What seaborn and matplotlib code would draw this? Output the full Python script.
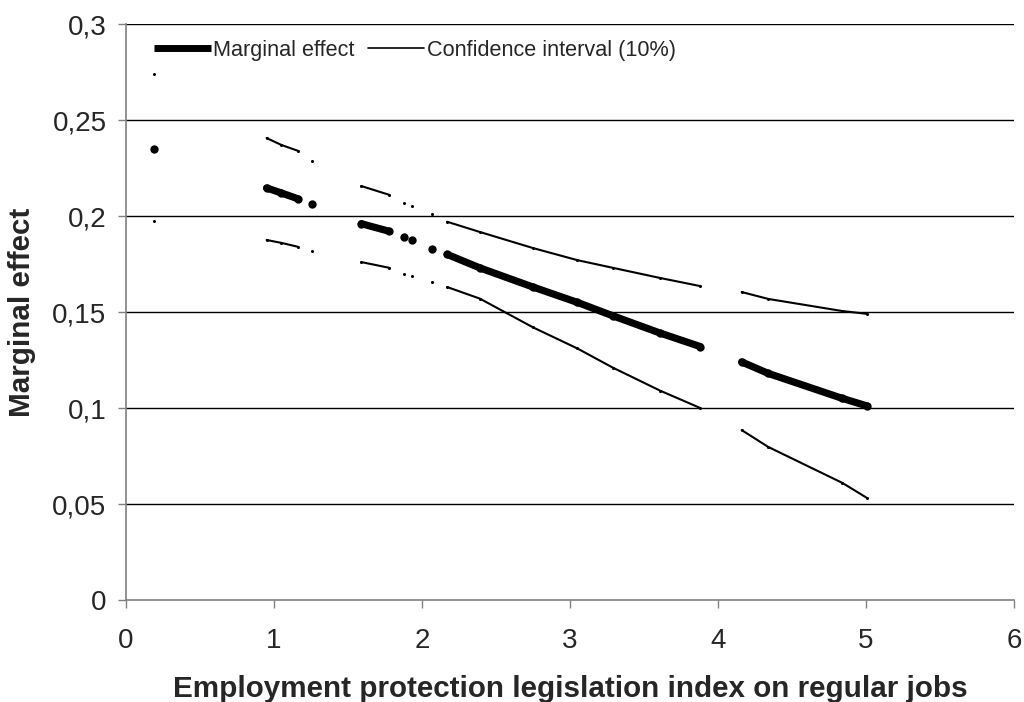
import numpy as np
import pandas as pd
import matplotlib
matplotlib.use("Agg")
import matplotlib.pyplot as plt
import seaborn as sns
from matplotlib.ticker import FuncFormatter
from matplotlib.lines import Line2D

# ---- data ----
segment  = [0, 1, 1, 1, 2, 3, 3, 4, 5, 6, 7, 7, 7, 7, 7, 7, 7, 8, 8, 8, 8]
epl      = [0.19, 0.95, 1.05, 1.16, 1.26, 1.59, 1.78, 1.88, 1.93, 2.07,
            2.17, 2.39, 2.75, 3.05, 3.29, 3.61, 3.88, 4.16, 4.34, 4.84, 5.01]
marginal = [0.235, 0.2146, 0.212, 0.209, 0.206, 0.196, 0.192, 0.189, 0.1875, 0.183,
            0.180, 0.173, 0.163, 0.155, 0.148, 0.139, 0.132, 0.124, 0.118, 0.105, 0.101]
upper    = [0.274, 0.2406, 0.237, 0.234, 0.2286, 0.2156, 0.211, 0.207, 0.205, 0.201,
            0.197, 0.1917, 0.1833, 0.177, 0.173, 0.1677, 0.1635, 0.1604, 0.1568, 0.1505, 0.149]
lower    = [0.1974, 0.1875, 0.186, 0.184, 0.182, 0.176, 0.173, 0.170, 0.169, 0.1656,
            0.163, 0.157, 0.142, 0.131, 0.121, 0.109, 0.100, 0.0885, 0.0797, 0.061, 0.053]
y_ticks = [0, 0.05, 0.1, 0.15, 0.2, 0.25, 0.3]
x_ticks = [0, 1, 2, 3, 4, 5, 6]

sns.set_theme(style="white")
plt.rcParams["font.family"] = ["Liberation Sans", "DejaVu Sans"]

me_df = pd.DataFrame({"epl": epl, "value": marginal, "unit": segment})
ci_df = pd.concat([
    pd.DataFrame({"epl": epl, "value": upper, "unit": [f"u{s}" for s in segment]}),
    pd.DataFrame({"epl": epl, "value": lower, "unit": [f"l{s}" for s in segment]}),
], ignore_index=True)

fig = plt.figure(figsize=(10.24, 7.02), dpi=100)
ax = fig.add_axes([126 / 1024, 1 - 600 / 702, 888 / 1024, 576 / 702])

for y in y_ticks[1:]:
    ax.axhline(y, color="black", lw=1.0, zorder=0)

sns.lineplot(data=ci_df, x="epl", y="value", units="unit", estimator=None,
             color="black", lw=1.5, marker="o", markersize=2.2, markeredgewidth=0,
             solid_capstyle="round", ax=ax, legend=False)
sns.lineplot(data=me_df, x="epl", y="value", units="unit", estimator=None,
             color="black", lw=5.2, marker="o", markersize=6.0, markeredgewidth=0,
             solid_capstyle="round", ax=ax, legend=False)

ax.set_xlim(0, 6)
ax.set_ylim(0, 0.3)
ax.set_xticks(x_ticks)
ax.set_yticks(y_ticks)
fmt = FuncFormatter(lambda v, p: ("%g" % v).replace(".", ","))
ax.yaxis.set_major_formatter(fmt)
ax.xaxis.set_major_formatter(fmt)
ax.tick_params(axis="both", which="major", labelsize=20, direction="out",
               length=6, width=1, color="#808080", bottom=True, left=True)
ax.tick_params(axis="y", pad=8)
ax.tick_params(axis="x", pad=14)

for s in ["top", "right"]:
    ax.spines[s].set_visible(False)
for s in ["left", "bottom"]:
    ax.spines[s].set_color("#808080")
    ax.spines[s].set_linewidth(1.2)

ax.set_xlabel("Employment protection legislation index on regular jobs",
              fontsize=21.3, fontweight="bold", labelpad=15)
ax.set_ylabel("Marginal effect", fontsize=21.3, fontweight="bold", labelpad=12)

handles = [Line2D([], [], color="black", lw=5.0, solid_capstyle="butt"),
           Line2D([], [], color="black", lw=1.2)]
ax.legend(handles, ["Marginal effect", "Confidence interval (10%)"], ncol=2,
          loc="upper left", bbox_to_anchor=(0.015, 0.999), frameon=False,
          fontsize=15.6, handlelength=2.6, handletextpad=0.12, columnspacing=0.6,
          borderpad=0.2)

fig.savefig("out.png", dpi=100)
